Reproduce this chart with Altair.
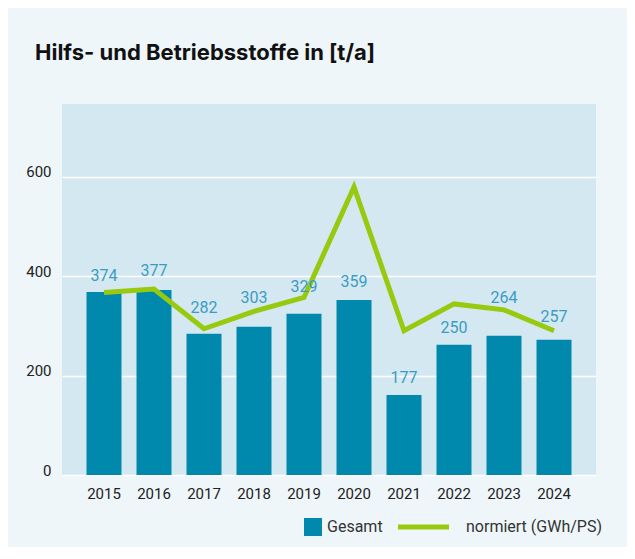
import altair as alt
import pandas as pd

years = ["2015", "2016", "2017", "2018", "2019", "2020", "2021", "2022", "2023", "2024"]
gesamt = [368, 372, 284, 298, 324, 352, 161, 262, 280, 272]
normiert = [367, 374, 294, 329, 357, 579, 290, 344, 332, 290]
labels = ["374", "377", "282", "303", "329", "359", "177", "250", "264", "257"]
label_y = [400, 411, 336, 356, 378, 389, 195, 296, 356, 318]
series = ["Gesamt", "normiert (GWh/PS)"]
y_ticks = [0, 200, 400, 600]

df = pd.DataFrame({"year": years, "gesamt": gesamt, "normiert": normiert,
                   "label": labels, "label_y": label_y,
                   "s_bar": [series[0]] * len(years), "s_line": [series[1]] * len(years)})

FONT = "Roboto"
BAR = "#0089ad"
LINE = "#97c90f"
LABEL = "#3a9cc2"

xenc = alt.X("year:O", title=None,
             scale=alt.Scale(paddingInner=0.3, paddingOuter=0.49),
             axis=alt.Axis(labelAngle=0, ticks=False, domain=False, grid=False,
                           labelPadding=11, labelFont=FONT, labelFontSize=15,
                           labelColor="#222222"))
yscale = alt.Scale(domain=[0, 746], nice=False)
yaxis = alt.Axis(values=y_ticks, ticks=False, domain=False, grid=True,
                 gridColor="#ffffff", gridWidth=1.5, labelPadding=11,
                 labelFont=FONT, labelFontSize=15, labelColor="#222222",
                 labelBaseline="alphabetic")

base = alt.Chart(df)

bars = base.mark_bar().encode(
    x=xenc,
    y=alt.Y("gesamt:Q", title=None, scale=yscale, axis=yaxis),
    color=alt.Color("s_bar:N", scale=alt.Scale(domain=[series[0]], range=[BAR]),
                    legend=alt.Legend(title=None, orient="none", legendX=242, legendY=414,
                                      symbolType="square", symbolSize=324,
                                      symbolStrokeWidth=0, labelOffset=5, padding=0,
                                      labelFont=FONT, labelFontSize=16,
                                      labelColor="#333333")),
)

line = base.mark_line(strokeWidth=5).encode(
    x=xenc,
    y=alt.Y("normiert:Q", scale=yscale),
    stroke=alt.Stroke("s_line:N", scale=alt.Scale(domain=[series[1]], range=[LINE]),
                      legend=alt.Legend(title=None, orient="none", legendX=333.5, legendY=395,
                                        symbolType="stroke", symbolSize=2601,
                                        symbolStrokeWidth=5, labelOffset=14.5, padding=0,
                                        labelFont=FONT, labelFontSize=16,
                                        labelColor="#333333")),
)

text = base.mark_text(font=FONT, fontSize=16, color=LABEL, baseline="middle").encode(
    x=xenc,
    y=alt.Y("label_y:Q", scale=yscale),
    text="label:N",
)

chart = alt.layer(bars, line, text).properties(
    width=534, height=371,
    background="#eef6fa",
    padding={"left": 54, "top": 96, "right": 31, "bottom": 72},
    autosize=alt.AutoSizeParams(type="none"),
    title=alt.TitleParams("Hilfs- und Betriebsstoffe in [t/a]", anchor="start",
                          frame="group",
                          font="Inter", fontSize=22, fontWeight="bold", color="#111111",
                          baseline="alphabetic", offset=22, dx=-27),
).configure_view(fill="#d4e8f1", stroke=None)

chart.save("out.html", embed_options={"renderer": "svg", "actions": False})
